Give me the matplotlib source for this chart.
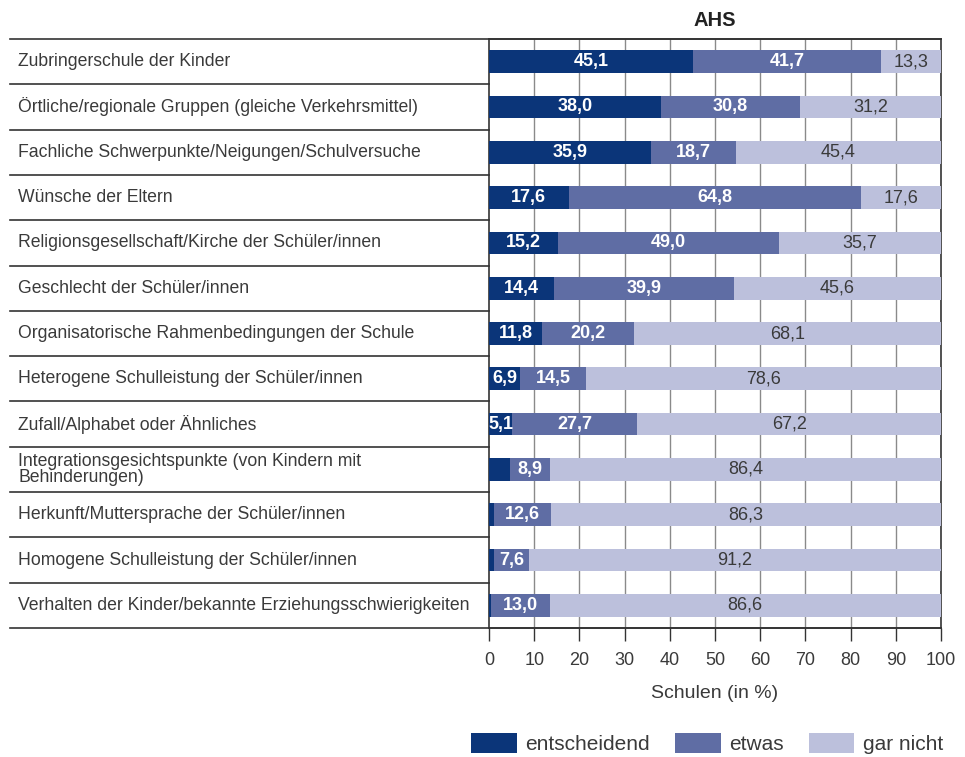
import numpy as np
import matplotlib
matplotlib.use('Agg')
import matplotlib.pyplot as plt

plt.rcParams['font.family'] = ['Liberation Sans', 'DejaVu Sans']

# Data (AHS, Schulen in %)
categories = [
    'Zubringerschule der Kinder',
    'Örtliche/regionale Gruppen (gleiche Verkehrsmittel)',
    'Fachliche Schwerpunkte/Neigungen/Schulversuche',
    'Wünsche der Eltern',
    'Religionsgesellschaft/Kirche der Schüler/innen',
    'Geschlecht der Schüler/innen',
    'Organisatorische Rahmenbedingungen der Schule',
    'Heterogene Schulleistung der Schüler/innen',
    'Zufall/Alphabet oder Ähnliches',
    'Integrationsgesichtspunkte (von Kindern mit\nBehinderungen)',
    'Herkunft/Muttersprache der Schüler/innen',
    'Homogene Schulleistung der Schüler/innen',
    'Verhalten der Kinder/bekannte Erziehungsschwierigkeiten',
]
entscheidend = [45.1, 38.0, 35.9, 17.6, 15.2, 14.4, 11.8, 6.9, 5.1, 4.7, 1.1, 1.2, 0.4]
etwas = [41.7, 30.8, 18.7, 64.8, 49.0, 39.9, 20.2, 14.5, 27.7, 8.9, 12.6, 7.6, 13.0]
gar_nicht = [13.3, 31.2, 45.4, 17.6, 35.7, 45.6, 68.1, 78.6, 67.2, 86.4, 86.3, 91.2, 86.6]
series_names = ['entscheidend', 'etwas', 'gar nicht']
colors = ['#0b3579', '#5f6da4', '#bcc0dc']
xticks = [0, 10, 20, 30, 40, 50, 60, 70, 80, 90, 100]

text_col = '#3a3a3a'
line_col = '#333333'

fig = plt.figure(figsize=(9.65, 7.57), dpi=100)
ax = fig.add_axes([489 / 965, 1 - 628 / 757, 452 / 965, 589 / 757])

y = np.arange(len(categories))
left = np.zeros(len(categories))
for vals, name, col in zip([entscheidend, etwas, gar_nicht], series_names, colors):
    vals = np.array(vals)
    ax.barh(y, vals, left=left, height=0.5, color=col, label=name, zorder=3)
    for yi, l, v in zip(y, left, vals):
        if name == 'entscheidend' and v < 5:
            continue
        txt = f'{v:.1f}'.replace('.', ',')
        if name == 'gar nicht':
            ax.text(l + v / 2, yi, txt, ha='center', va='center', color=text_col,
                    fontsize=13, zorder=4)
        else:
            ax.text(l + v / 2, yi, txt, ha='center', va='center', color='white',
                    fontsize=13, fontweight='bold', zorder=4)
    left = left + vals

ax.set_xlim(0, 100)
ax.set_ylim(len(categories) - 0.5, -0.5)
ax.set_yticks([])
ax.set_xticks(xticks)
ax.set_xticklabels([str(t) for t in xticks], fontsize=13, color=text_col)
ax.tick_params(axis='x', direction='out', length=9, width=1, color=line_col, pad=8)
for t in xticks[1:-1]:
    ax.axvline(t, color='#8a8a8a', lw=1, zorder=1)

for s in ['left', 'right', 'top', 'bottom']:
    ax.spines[s].set_color(line_col)
    ax.spines[s].set_linewidth(1.2)

# table lines in the label column
trans = ax.get_yaxis_transform()
x0 = (10 - 489) / 452
for b in np.arange(len(categories) + 1) - 0.5:
    if b in (-0.5, len(categories) - 0.5):
        ax.plot([x0, 1], [b, b], color=line_col, lw=1.2, transform=trans, clip_on=False)
    else:
        ax.plot([x0, 0], [b, b], color=line_col, lw=1.2, transform=trans, clip_on=False)

for yi, cat in zip(y, categories):
    ax.text((18 - 489) / 452, yi, cat, transform=trans, ha='left', va='center',
            fontsize=12.7, color=text_col, linespacing=0.9)

ax.text(0.5, 1 + 19 / 589, 'AHS', transform=ax.transAxes, ha='center', va='center',
        fontsize=14.5, fontweight='bold', color='#222222')
ax.set_xlabel('Schulen (in %)', fontsize=14, color=text_col, labelpad=12)

ax.legend(loc='lower right', bbox_to_anchor=(943 / 965, 0.004), bbox_transform=fig.transFigure,
          ncol=3, frameon=False, fontsize=15, handlelength=2.2, handleheight=1.15,
          handletextpad=0.4, columnspacing=1.2, borderpad=0, borderaxespad=0,
          labelcolor=text_col)

fig.savefig('out.png', dpi=100)
